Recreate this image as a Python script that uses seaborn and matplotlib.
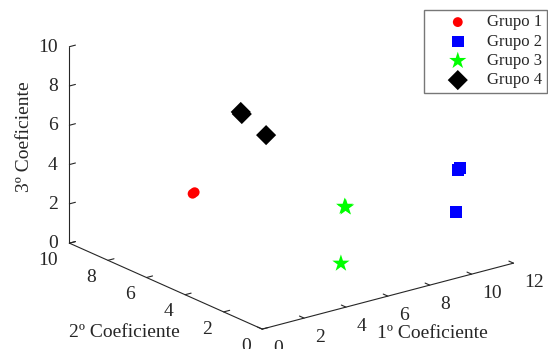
import numpy as np
import matplotlib
matplotlib.use("Agg")
import matplotlib.pyplot as plt
import matplotlib.transforms as mtransforms
from mpl_toolkits.mplot3d import proj3d
import seaborn as sns

# Coefficient triples for each group
g1_x = [2.2, 2.3]
g1_y = [6.0, 6.0]
g1_z = [3.65, 3.7]

g2_x = [11.2, 11.3, 11.2]
g2_y = [2.0, 2.0, 2.1]
g2_z = [4.1, 4.15, 1.9]

g3_x = [6.7, 6.75, 5.6]
g3_y = [3.0, 3.0, 2.0]
g3_z = [3.05, 3.0, 0.9]

g4_x = [4.5, 4.55, 5.25]
g4_y = [6.0, 6.0, 5.5]
g4_z = [7.17, 7.05, 6.0]

labels = ["Grupo 1", "Grupo 2", "Grupo 3", "Grupo 4"]
colors = ["#ff0000", "#0000ff", "#00ff00", "#000000"]
markers = ["o", "s", "*", "D"]
sizes = [50, 70, 170, 105]

x_ticks = [0, 2, 4, 6, 8, 10, 12]
y_ticks = [0, 2, 4, 6, 8, 10]
z_ticks = [0, 2, 4, 6, 8, 10]

x_label = "1º Coeficiente"
y_label = "2º Coeficiente"
z_label = "3º Coeficiente"

sns.set_style("white")
plt.rcParams["font.family"] = ["Liberation Serif", "DejaVu Serif"]
plt.rcParams["font.size"] = 14
ink = "#262626"

fig = plt.figure(figsize=(5.48, 3.49), dpi=100)
ax = fig.add_axes([-0.052, -0.150, 1.144, 1.375], projection="3d")
ax.set_proj_type("ortho")
ax.view_init(elev=20, azim=-127.5)
ax.set_box_aspect((1, 1, 0.66))

groups = [(g1_x, g1_y, g1_z), (g2_x, g2_y, g2_z), (g3_x, g3_y, g3_z), (g4_x, g4_y, g4_z)]
for (gx, gy, gz), lab, c, m, s in zip(groups, labels, colors, markers, sizes):
    ax.scatter(gx, gy, gz, c=c, marker=m, s=s, label=lab, depthshade=False, edgecolors="none")

ax.set_xlim(x_ticks[0], x_ticks[-1])
ax.set_ylim(y_ticks[0], y_ticks[-1])
ax.set_zlim(z_ticks[0], z_ticks[-1])
ax.set_xticks(x_ticks)
ax.set_yticks(y_ticks)
ax.set_zticks(z_ticks)

ax.grid(False)
for axis in (ax.xaxis, ax.yaxis, ax.zaxis):
    axis.pane.fill = False
    axis.pane.set_edgecolor("none")
    axis.line.set_color(ink)
    axis.line.set_linewidth(0.8)
    axis._axinfo["tick"]["inward_factor"] = 0.0
    axis._axinfo["tick"]["outward_factor"] = 0.3
    axis.set_tick_params(colors=ink, labelbottom=False)

# Resolve the projection so tick labels can sit beside their ticks
fig.canvas.draw()
M = ax.get_proj()


def shifted(dx, dy):
    return mtransforms.offset_copy(ax.transData, fig=fig, x=dx, y=dy, units="dots")


def put(x, y, z, s, ha, dx, dy):
    px, py, _ = proj3d.proj_transform(x, y, z, M)
    ax.text2D(px, py, s, ha=ha, va="baseline", color=ink, fontsize=14,
              transform=shifted(dx, dy))


for v in x_ticks:
    put(v, y_ticks[0], z_ticks[0], str(v), "left", 11, -24)
for v in y_ticks:
    put(x_ticks[0], v, z_ticks[0], str(v), "right", -11.5, -21.7)
for v in z_ticks:
    put(x_ticks[0], y_ticks[-1], v, str(v), "right", -11.7, -5)

fig.text(432.5 / 548, 1 - 338.3 / 349, x_label, ha="center", va="baseline", fontsize=14, color=ink)
fig.text(124.7 / 548, 1 - 336.7 / 349, y_label, ha="center", va="baseline", fontsize=14, color=ink)
fig.text(25 / 548, 1 - 137 / 349, z_label, ha="center", va="center", rotation=90, fontsize=14, color=ink)

leg = ax.legend(loc="upper right", bbox_to_anchor=(0.998, 0.971), bbox_transform=fig.transFigure,
                frameon=True, fancybox=False, edgecolor="#555555", fontsize=12,
                borderpad=0.26, handlelength=3.56, handletextpad=0.0, labelspacing=0.2,
                borderaxespad=0)
leg.get_frame().set_linewidth(1.0)

fig.savefig("out.png", dpi=100)
